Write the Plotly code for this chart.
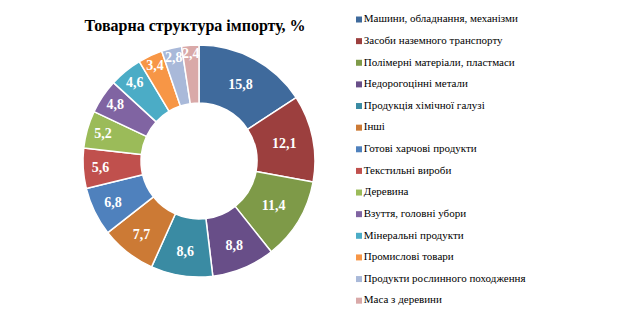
import plotly.graph_objects as go

categories = [
    "Машини, обладнання, механізми",
    "Засоби наземного транспорту",
    "Полімерні матеріали, пластмаси",
    "Недорогоцінні метали",
    "Продукція хімічної галузі",
    "Інші",
    "Готові харчові продукти",
    "Текстильні вироби",
    "Деревина",
    "Взуття, головні убори",
    "Мінеральні продукти",
    "Промислові товари",
    "Продукти рослинного походження",
    "Маса з деревини",
]
values = [15.8, 12.1, 11.4, 8.8, 8.6, 7.7, 6.8, 5.6, 5.2, 4.8, 4.6, 3.4, 2.8, 2.4]
colors = [
    "#3F6A9C", "#9C3F3E", "#7E9A48", "#684E88", "#3A8BA3", "#CC7A35", "#4F81BD",
    "#C0504D", "#9BBB59", "#8064A2", "#4BACC6", "#F79646", "#A9B9D9", "#D9A9A8",
]
title_text = "Товарна структура імпорту, %"

labels_text = [f"{v:.1f}".replace(".", ",") for v in values]

SERIF = "Liberation Serif, Times New Roman, serif"
W, H = 633, 324
fig = go.Figure()

fig.add_trace(go.Pie(
    labels=categories,
    values=values,
    text=labels_text,
    texttemplate="<b>%{text}</b>",
    textposition="inside",
    insidetextorientation="horizontal",
    textfont=dict(family=SERIF, size=14, color="white"),
    marker=dict(colors=colors, line=dict(color="white", width=1.5)),
    hole=0.5,
    sort=False,
    direction="clockwise",
    rotation=0,
    domain=dict(x=[(199 - 116) / W, (199 + 116) / W], y=[1 - 277 / H, 1 - 45 / H]),
    showlegend=False,
    hoverinfo="label+value",
))

# legend drawn as a scatter on a hidden axis
fig.add_trace(go.Scatter(
    x=[9] * len(categories),
    y=categories,
    mode="markers+text",
    marker=dict(symbol="square", size=6, color=colors),
    text=categories,
    textposition="middle right",
    textfont=dict(family=SERIF, size=11, color="black"),
    showlegend=False,
    hoverinfo="skip",
    cliponaxis=False,
))

fig.update_layout(
    width=W, height=H,
    margin=dict(l=0, r=0, t=0, b=0),
    paper_bgcolor="white", plot_bgcolor="white",
    font=dict(family=SERIF),
    title=dict(text="<b>" + title_text + "</b>", x=195 / W, xanchor="center",
               y=1 - 25 / H, yanchor="middle",
               font=dict(family=SERIF, size=16, color="black")),
    uniformtext=dict(minsize=14, mode="show"),
    xaxis=dict(domain=[350 / W, 1], range=[0, 283], visible=False, fixedrange=True),
    yaxis=dict(domain=[1 - 311.5 / H, 1 - 8.7 / H], type="category",
               categoryorder="array", categoryarray=categories,
               range=[13.5, -0.5], visible=False, fixedrange=True),
)

fig.write_html("out.html")
